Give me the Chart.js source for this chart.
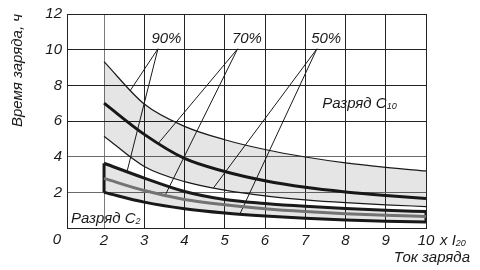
<!DOCTYPE html>
<html>
<head>
<meta charset="utf-8">
<script src="https://cdn.jsdelivr.net/npm/chart.js@4.4.1/dist/chart.umd.min.js"></script>
<style>
  html, body { margin: 0; padding: 0; background: #fff; }
  #wrap { width: 480px; height: 270px; }
</style>
</head>
<body>
<div id="wrap"><canvas id="chargeChart"></canvas></div>
<script>
// x positions (charge current, x I20)
var xVals = [2, 3, 4, 5, 6, 7, 8, 9, 10];
var xTicks = [2, 3, 4, 5, 6, 7, 8, 9, 10];
var yTicks = [2, 4, 6, 8, 10, 12];

// discharge C10 band: 90 / 70 / 50 %
var c10Top = [9.33, 6.95, 5.7, 4.95, 4.4, 3.98, 3.65, 3.4, 3.2];
var c10Mid = [7.0, 5.25, 3.9, 3.17, 2.65, 2.28, 2.02, 1.82, 1.65];
var c10Low = [5.15, 3.45, 2.6, 2.12, 1.8, 1.58, 1.42, 1.3, 1.2];

// discharge C2 band: 90 / 70 / 50 %
var c2Top = [3.63, 2.8, 2.05, 1.6, 1.38, 1.22, 1.1, 1.0, 0.92];
var c2Mid = [2.78, 2.1, 1.6, 1.3, 1.08, 0.92, 0.8, 0.71, 0.65];
var c2Low = [2.0, 1.45, 1.08, 0.84, 0.67, 0.54, 0.45, 0.38, 0.33];

// callout labels and their leader lines
var pctLabels = ['90%', '70%', '50%'];
var pctTextX = [3.55, 5.55, 7.52];
var pctTextY = 10.6;
var pctHubX = [3.34, 5.32, 7.29];
var pctHubY = 10.05;
var pctC10X = [2.65, 3.35, 4.72];
var pctC10Y = [7.7, 4.75, 2.25];
var pctC2X = [2.57, 3.52, 5.38];
var pctC2Y = [3.15, 1.84, 0.8];

var c10Note = { x: 7.42, y: 6.72 };
var c2Note = { x: 1.18, y: 0.28 };

var FONT = '"Liberation Sans", Arial, sans-serif';
var INK = '#1a1a1a';

function pts(xs, ys) {
    return xs.map(function(v, i) { return { x: v, y: ys[i] }; });
}

function curve(data, width, color, fill) {
    return {
        data: data,
        borderColor: color,
        borderWidth: width,
        pointRadius: 0,
        cubicInterpolationMode: 'monotone',
        fill: fill === undefined ? false : fill,
        backgroundColor: 'rgba(0,0,0,0.1)'
    };
}

var datasets = [
    curve(pts(xVals, c10Top), 1.2, INK, 2),
    curve(pts(xVals, c10Mid), 3, INK),
    curve(pts(xVals, c10Low), 1.2, INK),
    curve(pts(xVals, c2Top), 3, INK, 5),
    curve(pts(xVals, c2Mid), 3, '#808080'),
    curve(pts(xVals, c2Low), 3, INK),
    curve([{ x: xVals[0], y: c2Low[0] }, { x: xVals[0], y: c2Top[0] }], 3, INK),
    curve([{ x: xVals[8], y: c2Low[8] }, { x: xVals[8], y: c2Top[8] }], 3, INK)
];

// leader lines
for (var i = 0; i < pctLabels.length; i++) {
    datasets.push(curve([{ x: pctHubX[i], y: pctHubY }, { x: pctC10X[i], y: pctC10Y[i] }], 1, INK));
    datasets.push(curve([{ x: pctHubX[i], y: pctHubY }, { x: pctC2X[i], y: pctC2Y[i] }], 1, INK));
}

function subText(ctx, main, sub, x, y) {
    ctx.font = 'italic 15px ' + FONT;
    ctx.textAlign = 'left';
    ctx.textBaseline = 'alphabetic';
    ctx.fillText(main, x, y);
    var w = ctx.measureText(main).width;
    ctx.font = 'italic 9px ' + FONT;
    ctx.fillText(sub, x + w, y + 1);
}

var textPlugin = {
    id: 'texts',
    afterDraw: function(chart) {
        var ctx = chart.ctx;
        var xs = chart.scales.x;
        var ys = chart.scales.y;
        var area = chart.chartArea;
        ctx.save();
        ctx.fillStyle = INK;
        ctx.font = 'italic 15px ' + FONT;
        ctx.textAlign = 'center';
        ctx.textBaseline = 'middle';
        pctLabels.forEach(function(t, i) {
            ctx.fillText(t, xs.getPixelForValue(pctTextX[i]), ys.getPixelForValue(pctTextY));
        });
        // origin label
        ctx.fillText('0', area.left - 10, area.bottom + 12);

        subText(ctx, 'Разряд C', '10', xs.getPixelForValue(c10Note.x), ys.getPixelForValue(c10Note.y));
        subText(ctx, 'Разряд C', '2', xs.getPixelForValue(c2Note.x), ys.getPixelForValue(c2Note.y));
        subText(ctx, 'x I', '20', area.right + 14, area.bottom + 17);

        ctx.font = 'italic 15px ' + FONT;
        ctx.textAlign = 'right';
        ctx.fillText('Ток заряда', area.right + 44, area.bottom + 34);
        ctx.restore();
    }
};

var ctx = document.getElementById('chargeChart').getContext('2d');
var chart = new Chart(ctx, {
    type: 'line',
    data: { datasets: datasets },
    options: {
        responsive: true,
        maintainAspectRatio: false,
        animation: false,
        layout: { padding: { top: 12, right: 54, left: 0, bottom: 0 } },
        plugins: {
            legend: { display: false },
            tooltip: { enabled: false }
        },
        scales: {
            x: {
                type: 'linear',
                min: 1.08,
                max: 10,
                afterBuildTicks: function(scale) {
                    scale.ticks = xTicks.map(function(v) { return { value: v }; });
                },
                afterFit: function(scale) { scale.height = 42; },
                grid: {
                    drawTicks: false,
                    color: function(c) { return c.tick && c.tick.value === 2 ? '#7a7a7a' : '#222'; }
                },
                border: { color: '#222', width: 1 },
                ticks: {
                    padding: 4,
                    color: INK,
                    font: { family: FONT, size: 15, style: 'italic' },
                    maxRotation: 0
                }
            },
            y: {
                min: 0,
                max: 12,
                afterBuildTicks: function(scale) {
                    scale.ticks = [0].concat(yTicks).map(function(v) { return { value: v }; });
                },
                afterFit: function(scale) { scale.width = 67; },
                grid: {
                    drawTicks: false,
                    color: function(c) {
                        var v = c.tick ? c.tick.value : 0;
                        return (v === 2 || v === 4) ? '#6a6a6a' : '#222';
                    }
                },
                border: { color: '#222', width: 1 },
                ticks: {
                    padding: 5,
                    color: INK,
                    font: { family: FONT, size: 15, style: 'italic' },
                    callback: function(v) { return v === 0 ? '' : v; }
                },
                title: {
                    display: true,
                    text: 'Время заряда, ч',
                    align: 'end',
                    color: INK,
                    font: { family: FONT, size: 15, style: 'italic' },
                    padding: { top: 9, bottom: 0 }
                }
            }
        }
    },
    plugins: [textPlugin]
});
</script>
</body>
</html>
